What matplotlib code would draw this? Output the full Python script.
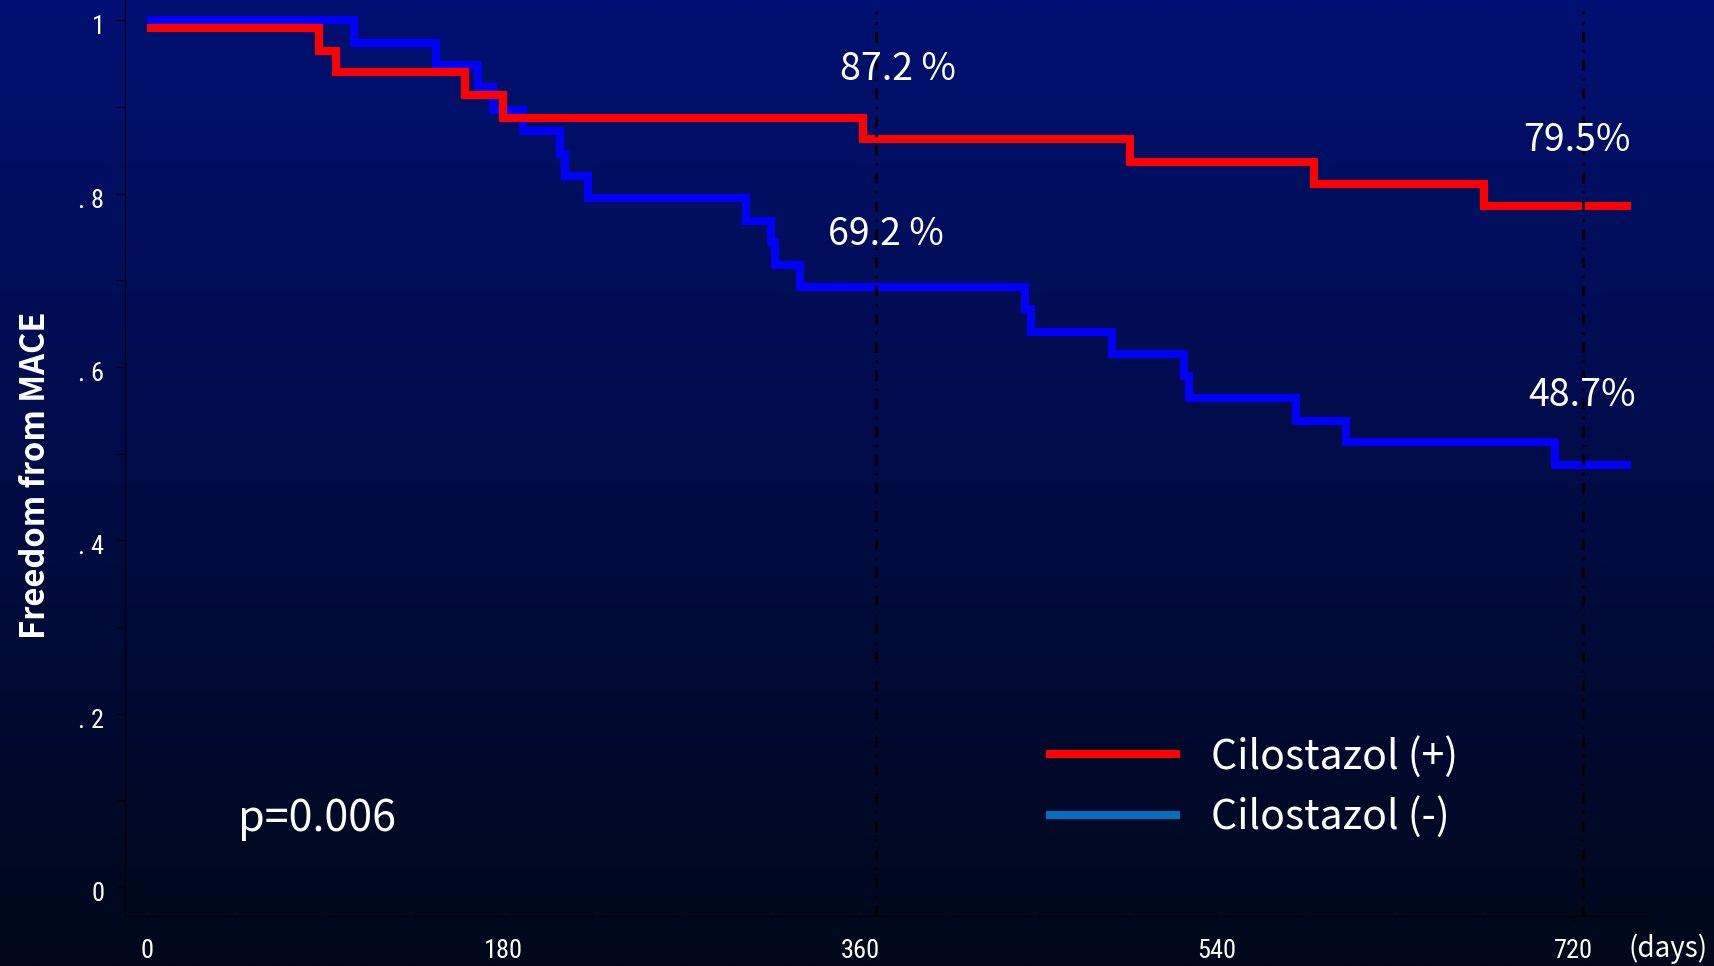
import numpy as np
import matplotlib
matplotlib.use("Agg")
import matplotlib.pyplot as plt
from matplotlib import font_manager as fm
from matplotlib.lines import Line2D
from matplotlib.ticker import FixedLocator, MultipleLocator
from matplotlib.transforms import ScaledTranslation

# ---- data -----------------------------------------------------------------
# Kaplan-Meier curves: day of each step and the survival estimate after it
red_days = [0, 87, 95.5, 160.7, 179.9, 361.4, 496, 589, 674.7, 749]
red_surv = [1.0, 0.974, 0.949, 0.923, 0.897, 0.872, 0.846, 0.820, 0.795, 0.795]

blue_days = [0, 104.5, 146, 167.3, 174.5, 189.6, 208.5, 211, 222.4, 302.5,
             315, 317, 329.6, 443, 446, 487, 523.7, 526, 580, 605, 710.5, 749]
blue_surv = [1.0, 0.974, 0.949, 0.923, 0.897, 0.872, 0.846, 0.821, 0.795, 0.769,
             0.744, 0.718, 0.692, 0.667, 0.641, 0.615, 0.590, 0.564, 0.538, 0.513,
             0.487, 0.487]

group_labels = ["Cilostazol (+)", "Cilostazol (-)"]
landmark_days = [368, 725]
landmark_texts_red = ["87.2 %", "79.5%"]
landmark_texts_blue = ["69.2 %", "48.7%"]
p_text = "p=0.006"

x_major = [0, 180, 360, 540, 720]
y_major = [0, 0.2, 0.4, 0.6, 0.8, 1.0]
y_major_labels = ["0", ". 2", ". 4", ". 6", ". 8", "1"]

# ---- fonts ----------------------------------------------------------------
available = {f.name for f in fm.fontManager.ttflist}


def pick(*names):
    for n in names:
        if n in available:
            return n
    return "DejaVu Sans"


narrow_font = pick("Liberation Sans Narrow", "Roboto Condensed", "DejaVu Sans Condensed",
                   "Noto Sans CJK JP", "Liberation Sans")
text_font = pick("Noto Sans CJK JP", "Noto Sans", "Open Sans")

# ---- figure ---------------------------------------------------------------
W, H = 1714, 966
fig = plt.figure(figsize=(W / 100, H / 100), dpi=100)

# vertical gradient background (deep blue fading to near black)
bg = fig.add_axes([0, 0, 1, 1], zorder=-10)
top = np.array([0, 16, 114]) / 255
bottom = np.array([0, 8, 25]) / 255
t = np.linspace(0, 1, 512)[:, None]
grad = top[None, :] * (1 - t) + bottom[None, :] * t
bg.imshow(grad[:, None, :], aspect="auto", extent=[0, 1, 0, 1], interpolation="bilinear")
bg.set_axis_off()

ax = fig.add_axes([125 / W, 1 - 916 / H, (1653 - 125) / W, 916 / H])
ax.set_facecolor("none")
ax.set_xlim(-11.1, 760.2)
ax.set_ylim(-0.0335, 1.0236)

lw = 5.8
red_shift = -0.009  # small downward shift keeps overlapping steps visible
ax.step(red_days, np.array(red_surv) + red_shift, where="post", color="#FF0000",
        lw=lw, solid_joinstyle="miter", solid_capstyle="butt", zorder=3)
ax.step(blue_days, blue_surv, where="post", color="#0000FF",
        lw=lw, solid_joinstyle="miter", solid_capstyle="butt", zorder=2)

# landmark guide lines
plt.rcParams["lines.scale_dashes"] = False
ax.vlines(landmark_days, ymin=-0.0335, ymax=1.011, colors="black", lw=2.0,
          linestyles=[(0, (7.5, 5.5, 1.8, 5.5))], zorder=5)

# spines and ticks
for s in ("top", "right"):
    ax.spines[s].set_visible(False)
for s in ("left", "bottom"):
    ax.spines[s].set_color("black")
    ax.spines[s].set_linewidth(0.8)

ax.xaxis.set_major_locator(FixedLocator(x_major))
ax.xaxis.set_minor_locator(MultipleLocator(45))
ax.set_xticklabels([str(v) for v in x_major])
ax.yaxis.set_major_locator(FixedLocator(y_major))
ax.yaxis.set_minor_locator(MultipleLocator(0.1))
ax.set_yticklabels(y_major_labels)

ax.tick_params(axis="x", which="both", direction="out", length=3.5, width=0.7,
               color="black", pad=13, labelcolor="white", labelsize=19)
ax.tick_params(axis="y", which="both", direction="out", length=6.2, width=0.7,
               color="black", pad=8.6, labelcolor="white", labelsize=19)
for lab in ax.get_xticklabels() + ax.get_yticklabels():
    lab.set_family(narrow_font)
# y tick labels sit a little below their ticks
down = ScaledTranslation(0, -4.5 / 100, fig.dpi_scale_trans)
for lab in ax.get_yticklabels():
    lab.set_transform(lab.get_transform() + down)

ax.set_ylabel("Freedom from MACE", fontsize=23.5, fontweight="bold", color="white",
              family=text_font)
ax.yaxis.label.set_va("center")
ax.yaxis.set_label_coords(-0.0585, 0.481)

fig.text(1667.7 / W, 1 - 949 / H, "(days)", ha="center", va="center",
         color="white", fontsize=20, family=text_font)

# landmark annotations
txt_kw = dict(color="white", ha="center", va="baseline", family=text_font, fontsize=27,
              zorder=6)
ax.text(379.3, 0.9312, landmark_texts_red[0], **txt_kw)
ax.text(372.8, 0.7403, landmark_texts_blue[0], **txt_kw)
ax.text(721.9, 0.8494, landmark_texts_red[1], **txt_kw)
ax.text(724.4, 0.5551, landmark_texts_blue[1], **txt_kw)
ax.text(85.7, 0.0650, p_text, color="white", ha="center", va="baseline",
        family=text_font, fontsize=31)

handles = [Line2D([], [], color="#FF0000", lw=lw, solid_capstyle="butt"),
           Line2D([], [], color="#0070C0", lw=lw, solid_capstyle="butt")]
leg = ax.legend(handles, group_labels, loc="upper left",
                bbox_to_anchor=(1045.5 / W, 1 - 735.7 / H), bbox_transform=fig.transFigure,
                frameon=False, borderpad=0, borderaxespad=0, handlelength=3.28,
                handletextpad=0.77, labelspacing=0.46,
                prop=dict(family=text_font, size=29.5))
for tx in leg.get_texts():
    tx.set_color("white")

fig.savefig("out.png", dpi=100)
